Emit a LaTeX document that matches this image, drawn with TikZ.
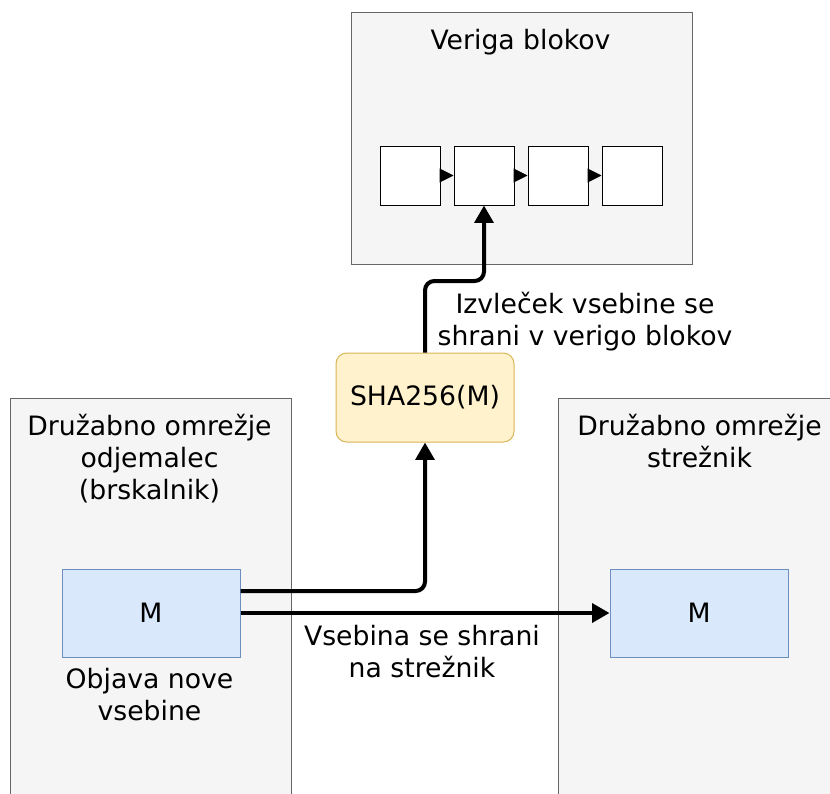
\documentclass[tikz,border=0pt]{standalone}
\usepackage{fontspec}
\setmainfont{DejaVu Sans}
\usetikzlibrary{arrows.meta}

\definecolor{grpfill}{HTML}{F5F5F5}
\definecolor{grpline}{HTML}{666666}
\definecolor{msgfill}{HTML}{DAE8FC}
\definecolor{msgline}{HTML}{6C8EBF}
\definecolor{hashfill}{HTML}{FFF2CC}
\definecolor{hashline}{HTML}{D6B656}

\tikzset{
  group/.style={draw=grpline, fill=grpfill, line width=0.75pt, inner sep=0pt},
  chainblock/.style={draw=black, fill=white, line width=0.75pt, minimum width=45pt, minimum height=44.25pt, inner sep=0pt},
  msgbox/.style={draw=msgline, fill=msgfill, line width=0.75pt, minimum width=133.5pt, minimum height=66pt, inner sep=0pt},
  hashbox/.style={draw=hashline, fill=hashfill, line width=0.75pt, rounded corners=8pt, minimum width=133.5pt, minimum height=66.75pt, inner sep=0pt},
  caption/.style={align=center, anchor=base, inner sep=0pt},
  flow/.style={line width=3pt, rounded corners=7pt, -{Triangle[length=13pt,width=14pt]}},
  link/.style={line width=0.75pt, -{Triangle[length=10.5pt,width=10.5pt]}},
}

\begin{document}
\begin{tikzpicture}[x=0.75pt, y=-0.75pt, font=\fontsize{20}{24}\selectfont]
\useasboundingbox (0,0) rectangle (830,793);
\clip (0,0) rectangle (830,793);

% containers
\node[group, minimum width=255.75pt, minimum height=189pt] (chain) at (521.5,138) {};
\node[group, minimum width=210.75pt, minimum height=306pt] (client) at (150.5,602) {};
\node[group, minimum width=211.5pt, minimum height=306pt] (server) at (699.5,602) {};

% container titles (base anchor sits on the last line)
\node[caption] (chaintitle) at (520.5,49) {Veriga blokov};
\node[caption] (clienttitle) at (149.5,499) {Družabno omrežje\\odjemalec\\(brskalnik)};
\node[caption] (servertitle) at (699.5,467) {Družabno omrežje\\strežnik};

% blockchain
\node[chainblock] (b1) at (410,175.5) {};
\node[chainblock] (b2) at (484,175.5) {};
\node[chainblock] (b3) at (558,175.5) {};
\node[chainblock] (b4) at (632,175.5) {};
\draw[link] (b1.east) -- (b2.west);
\draw[link] (b2.east) -- (b3.west);
\draw[link] (b3.east) -- (b4.west);

% hash
\node[hashbox] (sha) at (425,397.5) {SHA256(M)};

% messages
\node[msgbox] (mL) at (151,613) {M};
\node[msgbox] (mR) at (699,613) {M};
\node[caption] (posttext) at (149.5,720) {Objava nove\\vsebine};

% connectors
\coordinate (turn) at (0,281);
\draw[flow] (sha.north) -- (sha.north |- turn) -- (b2.south |- turn) -- (b2.south);
\draw[flow] ([yshift=16.5pt]mL.east) -| (sha.south);
\draw[flow] (mL.east) -- (mR.west);

% connector labels
\node[caption] (hashlabel) at (585,345) {Izvleček vsebine se\\shrani v verigo blokov};
\node[caption] (storelabel) at (422,677) {Vsebina se shrani\\na strežnik};
\end{tikzpicture}
\end{document}
